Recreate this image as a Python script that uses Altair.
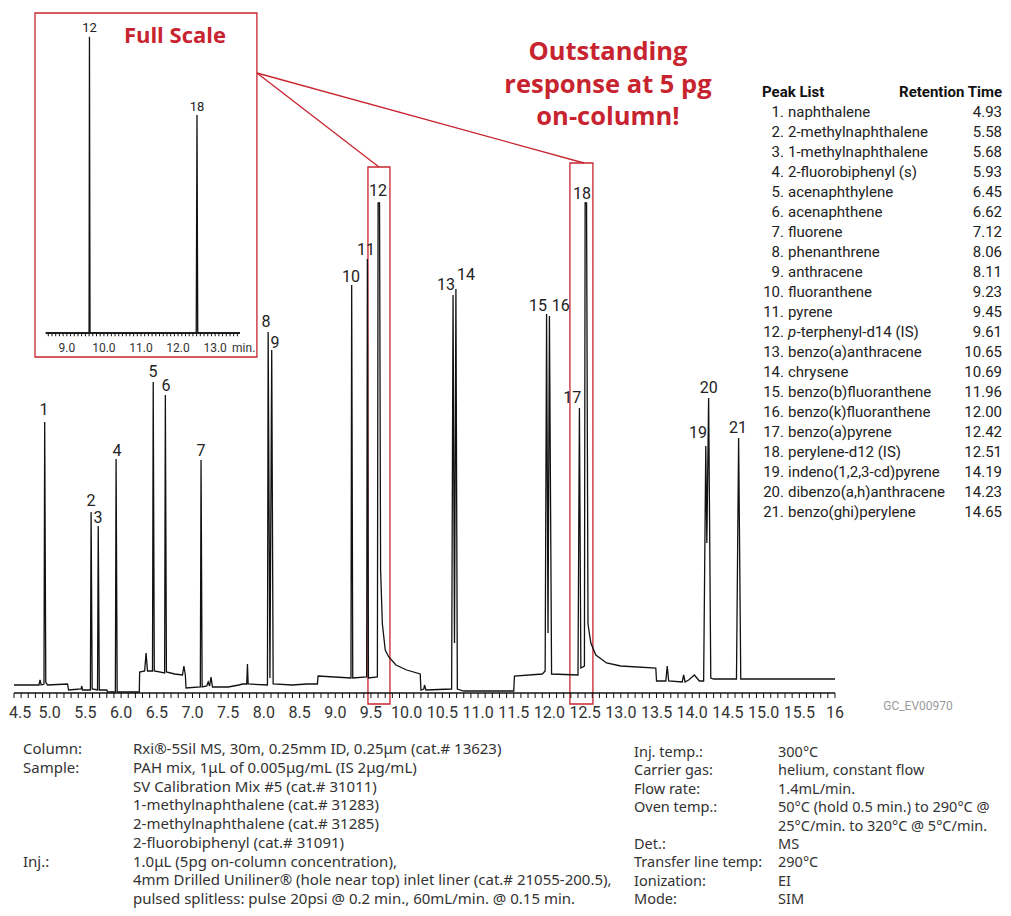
import altair as alt
import pandas as pd

W, H = 995, 900
RED = "#C8242F"
FONT = "Roboto"
TXT = "Noto Sans"

# ---------------- main chromatogram trace (time in min, response) ----------------
trace_t = [4.50, 4.85, 4.865, 4.88, 4.92, 4.93, 4.945, 4.97, 5.25, 5.265, 5.44, 5.45, 5.46,
           5.57, 5.58, 5.595, 5.67, 5.68, 5.695, 5.80, 5.81, 5.92, 5.93, 5.945, 6.255, 6.26,
           6.33, 6.35, 6.37, 6.44, 6.45, 6.465, 6.61, 6.62, 6.635, 6.75, 6.86, 6.88, 6.90,
           6.91, 7.11, 7.12, 7.135, 7.20, 7.22, 7.24, 7.26, 7.28, 7.50, 7.65, 7.70, 7.76,
           7.77, 7.78, 8.05, 8.06, 8.085, 8.11, 8.13, 8.40, 8.60, 8.75, 8.76, 9.22, 9.23,
           9.245, 9.44, 9.45, 9.465, 9.59, 9.60, 9.62, 9.635, 9.66, 9.70, 9.75, 9.85, 10.0,
           10.19, 10.20, 10.24, 10.25, 10.27, 10.63, 10.65, 10.67, 10.69, 10.71, 10.80,
           11.50, 11.51, 11.90, 11.94, 11.96, 11.98, 12.00, 12.03, 12.40, 12.42, 12.44,
           12.49, 12.50, 12.52, 12.54, 12.58, 12.65, 12.80, 13.00, 13.49, 13.50, 13.63,
           13.65, 13.67, 13.86, 13.88, 13.90, 13.95, 14.03, 14.10, 14.16, 14.19, 14.205,
           14.23, 14.26, 14.30, 14.62, 14.65, 14.68, 16.0]
trace_v = [1.6, 1.6, 2.6, 1.6, 1.8, 54.2, 2.2, 1.6, 1.8, 0.6, 0.8, 1.4, 0.6,
           0.6, 36.2, 0.8, 0.6, 33.4, 0.6, 0.6, 0.2, 0.2, 46.8, 0.2, 0.2, 4.2,
           4.4, 8.0, 4.4, 4.4, 62.2, 4.4, 4.0, 59.6, 4.2, 3.8, 3.6, 5.4, 3.6,
           1.0, 1.2, 46.6, 1.2, 1.4, 2.2, 1.4, 3.2, 1.2, 1.2, 1.6, 1.8, 1.8,
           5.8, 1.8, 1.6, 72.2, 3.0, 68.6, 1.8, 1.6, 1.8, 1.8, 3.4, 3.0, 81.6,
           3.0, 3.2, 86.8, 3.0, 3.2, 98.0, 98.0, 24.6, 13.8, 8.6, 7.2, 5.6, 4.6,
           3.8, 0.6, 0.8, 1.6, 0.6, 0.8, 79.6, 10.0, 80.8, 0.8, 0.4,
           0.4, 3.4, 3.8, 4.4, 75.8, 12.0, 75.4, 3.8, 3.6, 57.0, 5.0,
           5.4, 98.0, 98.0, 13.8, 10.0, 7.6, 6.0, 5.4, 5.0, 2.4, 2.4,
           5.4, 2.4, 2.2, 3.6, 2.2, 2.6, 3.6, 2.4, 2.4, 49.4, 30.0,
           59.0, 3.0, 2.8, 2.8, 51.0, 2.8, 2.8]

peak_ids = [str(i) for i in range(1, 22)]
label_t = [4.92, 5.578, 5.676, 5.943, 6.447, 6.629, 7.119, 8.029, 8.155, 9.22, 9.43,
           9.598, 10.55, 10.83, 11.84, 12.16, 12.32, 12.455, 14.08, 14.23, 14.64]
label_v = [56.6, 38.4, 35.0, 48.4, 64.2, 61.4, 48.4, 74.2, 70.0, 83.2, 88.6,
           100.4, 81.6, 83.6, 77.4, 77.4, 59.0, 99.8, 52.0, 61.0, 53.0]

main_minor_ticks = [round(4.5 + 0.1 * i, 1) for i in range(116)]
main_tick_labels = ["4.5", "5.0", "5.5", "6.0", "6.5", "7.0", "7.5", "8.0", "8.5", "9.0",
                    "9.5", "10.0", "10.5", "11.0", "11.5", "12.0", "12.5", "13.0", "13.5",
                    "14.0", "14.5", "15.0", "15.5", "16"]

# highlight boxes around IS peaks (time range, response range)
box_t0 = [9.458, 12.287]
box_t1 = [9.766, 12.609]
box_top = [105.2, 106.0]
box_bot = [-2.2, -2.2]

# connectors from inset to boxes
conn_t0 = [7.903, 7.903]
conn_v0 = [124.0, 124.0]
conn_t1 = [9.612, 12.483]
conn_v1 = [105.2, 106.0]

headline = ["Outstanding", "response at 5 pg", "on-column!"]
headline_t = [12.82, 12.82, 12.82]
headline_v = [128.2, 121.6, 115.2]

# ---------------- inset (full scale) ----------------
inset_t = [8.43, 9.60, 9.61, 9.625, 12.49, 12.51, 12.53, 13.67]
inset_v = [0.0, 0.0, 100.0, 0.0, 0.0, 73.6, 0.0, 0.0]
inset_ids = ["12", "18"]
inset_label_t = [9.61, 12.51]
inset_label_v = [103.0, 76.3]
inset_minor_ticks = [round(8.5 + 0.1 * i, 1) for i in range(52)]
inset_tick_labels = ["9.0", "10.0", "11.0", "12.0", "13.0"]

# ---------------- peak list ----------------
pl_names = ["naphthalene", "2-methylnaphthalene", "1-methylnaphthalene", "2-fluorobiphenyl (s)",
            "acenaphthylene", "acenaphthene", "fluorene", "phenanthrene", "anthracene",
            "fluoranthene", "pyrene", "p-terphenyl-d14 (IS)", "benzo(a)anthracene", "chrysene",
            "benzo(b)fluoranthene", "benzo(k)fluoranthene", "benzo(a)pyrene", "perylene-d12 (IS)",
            "indeno(1,2,3-cd)pyrene", "dibenzo(a,h)anthracene", "benzo(ghi)perylene"]
pl_rt = ["4.93", "5.58", "5.68", "5.93", "6.45", "6.62", "7.12", "8.06", "8.11", "9.23", "9.45",
         "9.61", "10.65", "10.69", "11.96", "12.00", "12.42", "12.51", "14.19", "14.23", "14.65"]

# ---------------- method conditions ----------------
left_labels = ["Column:", "Sample:", "", "", "", "", "Inj.:", "", ""]
left_values = ["Rxi®-5Sil MS, 30m, 0.25mm ID, 0.25μm (cat.# 13623)",
               "PAH mix, 1μL of 0.005μg/mL (IS 2μg/mL)",
               "SV Calibration Mix #5 (cat.# 31011)",
               "1-methylnaphthalene (cat.# 31283)",
               "2-methylnaphthalene (cat.# 31285)",
               "2-fluorobiphenyl (cat.# 31091)",
               "1.0μL (5pg on-column concentration),",
               "4mm Drilled Uniliner® (hole near top) inlet liner (cat.# 21055-200.5),",
               "pulsed splitless: pulse 20psi @ 0.2 min., 60mL/min. @ 0.15 min."]
right_labels = ["Inj. temp.:", "Carrier gas:", "Flow rate:", "Oven temp.:", "", "Det.:",
                "Transfer line temp:", "Ionization:", "Mode:"]
right_values = ["300°C", "helium, constant flow", "1.4mL/min.", "50°C (hold 0.5 min.) to 290°C @",
                "25°C/min. to 320°C @ 5°C/min.", "MS", "290°C", "EI", "SIM"]

# =============================================================================
x_main = alt.Scale(domain=[4.5, 16], range=[6, 827], nice=False, zero=False)
y_main = alt.Scale(domain=[0, 100], range=[685, 185], nice=False, zero=False)


def mx(f):
    return alt.X(f, scale=x_main, axis=None)


def my(f):
    return alt.Y(f, scale=y_main, axis=None)


# axis (domain line, ticks, labels) drawn through the main scales
axis_line = alt.Chart(pd.DataFrame({"a": [main_minor_ticks[0]], "b": [main_minor_ticks[-1]], "v": [0.0]})
                      ).mark_rule(color="#111", strokeWidth=1.3).encode(
    x=mx("a:Q"), x2="b:Q", y=my("v:Q"))
tick_df = pd.DataFrame({"t": main_minor_ticks})
axis_ticks = alt.Chart(tick_df).transform_calculate(v0="0", v1="-1").mark_rule(
    color="#111", strokeWidth=1).encode(x=mx("t:Q"), y=my("v0:Q"), y2="v1:Q")
tl_df = pd.DataFrame({"lab": main_tick_labels})
axis_labels = alt.Chart(tl_df).transform_filter("datum.lab != '4.5'").transform_calculate(
    t="toNumber(datum.lab)", v="-3.9").mark_text(
    font=FONT, fontSize=16, color="#333", baseline="middle", align="center").encode(
    x=mx("t:Q"), y=my("v:Q"), text="lab:N")
axis_label_first = alt.Chart(tl_df).transform_filter("datum.lab == '4.5'").transform_calculate(
    t="toNumber(datum.lab)", v="-3.9").mark_text(
    font=FONT, fontSize=16, color="#333", baseline="middle", align="left", dx=-5).encode(
    x=mx("t:Q"), y=my("v:Q"), text="lab:N")

trace_df = pd.DataFrame({"t": trace_t, "v": trace_v})
trace = alt.Chart(trace_df).mark_line(color="#111", strokeWidth=1.3).encode(
    x=mx("t:Q"), y=my("v:Q"), order="t:Q")

labels_df = pd.DataFrame({"id": peak_ids, "t": label_t, "v": label_v})
peak_labels = alt.Chart(labels_df).mark_text(font=FONT, fontSize=16, color="#222",
                                             baseline="middle", align="center").encode(
    x=mx("t:Q"), y=my("v:Q"), text="id:N")

box_df = pd.DataFrame({"t0": box_t0, "t1": box_t1, "top": box_top, "bot": box_bot})
boxes = alt.Chart(box_df).mark_rect(fillOpacity=0, stroke=RED, strokeWidth=1.3).encode(
    x=mx("t0:Q"), x2="t1:Q", y=my("top:Q"), y2="bot:Q")

conn_df = pd.DataFrame({"t0": conn_t0, "v0": conn_v0, "t1": conn_t1, "v1": conn_v1})
connectors = alt.Chart(conn_df).mark_rule(color=RED, strokeWidth=1.3).encode(
    x=mx("t0:Q"), x2="t1:Q", y=my("v0:Q"), y2="v1:Q")

head_df = pd.DataFrame({"txt": headline, "t": headline_t, "v": headline_v})
head = alt.Chart(head_df).mark_text(font="Open Sans", fontWeight="bold", fontSize=25.5,
                                    color=RED, baseline="middle", align="center").encode(
    x=mx("t:Q"), y=my("v:Q"), text="txt:N")

main_group = alt.layer(boxes, connectors, axis_line, axis_ticks, axis_labels, axis_label_first,
                       trace, peak_labels, head)

# ---------------- inset ----------------
x_in = alt.Scale(domain=[8.43, 13.67], range=[37.7, 232], nice=False, zero=False)
y_in = alt.Scale(domain=[0, 100], range=[325, 28.7], nice=False, zero=False)


def ix(f):
    return alt.X(f, scale=x_in, axis=None)


def iy(f):
    return alt.Y(f, scale=y_in, axis=None)


in_line = alt.Chart(pd.DataFrame({"a": [inset_t[0]], "b": [inset_t[-1]], "v": [0.0]})
                    ).mark_rule(color="#111", strokeWidth=1.3).encode(
    x=ix("a:Q"), x2="b:Q", y=iy("v:Q"))
in_ticks = alt.Chart(pd.DataFrame({"t": inset_minor_ticks})).transform_calculate(
    v0="0", v1="-1.1").mark_rule(color="#111", strokeWidth=1).encode(
    x=ix("t:Q"), y=iy("v0:Q"), y2="v1:Q")
in_tlabels = alt.Chart(pd.DataFrame({"lab": inset_tick_labels})).transform_calculate(
    t="toNumber(datum.lab)", v="-5.1").mark_text(
    font=FONT, fontSize=12, color="#333", baseline="middle", align="center").encode(
    x=ix("t:Q"), y=iy("v:Q"), text="lab:N")

inset_df = pd.DataFrame({"t": inset_t, "v": inset_v})
inset_trace = alt.Chart(inset_df).mark_line(color="#111", strokeWidth=1.3).encode(
    x=ix("t:Q"), y=iy("v:Q"), order="t:Q")
inset_lab_df = pd.DataFrame({"id": inset_ids, "t": inset_label_t, "v": inset_label_v})
inset_labels = alt.Chart(inset_lab_df).mark_text(font=FONT, fontSize=13, color="#222",
                                                 baseline="middle", align="center").encode(
    x=ix("t:Q"), y=iy("v:Q"), text="id:N")
inset_box_df = pd.DataFrame({"t0": [8.142], "t1": [14.126], "top": [108.0], "bot": [-8.1]})
inset_box = alt.Chart(inset_box_df).mark_rect(fillOpacity=0, stroke=RED, strokeWidth=1.3).encode(
    x=ix("t0:Q"), x2="t1:Q", y=iy("top:Q"), y2="bot:Q")
inset_title = alt.Chart(pd.DataFrame({"txt": ["Full Scale"], "t": [11.915], "v": [100.2]})).mark_text(
    font="Open Sans", fontWeight="bold", fontSize=22, color=RED, baseline="middle",
    align="center").encode(x=ix("t:Q"), y=iy("v:Q"), text="txt:N")
inset_min = alt.Chart(pd.DataFrame({"txt": ["min."], "t": [13.77], "v": [-5.1]})).mark_text(
    font=FONT, fontSize=12, color="#333", baseline="middle", align="center").encode(
    x=ix("t:Q"), y=iy("v:Q"), text="txt:N")
inset_group = alt.layer(inset_box, in_line, in_ticks, in_tlabels, inset_trace, inset_labels,
                        inset_title, inset_min)

# ---------------- peak list ----------------
PLS = 15
pl_df = pd.DataFrame({"idx": list(range(1, 22)),
                      "num": [f"{i}." for i in range(1, 22)],
                      "name": pl_names, "rt": pl_rt})
y_pl = alt.Scale(domain=[0, 21], range=[84, 504], nice=False, zero=False)
pl_base = alt.Chart(pl_df)
pl_num = pl_base.mark_text(font=FONT, fontSize=PLS, color="#222", align="right",
                           baseline="middle").encode(
    x=alt.value(776), y=alt.Y("idx:Q", scale=y_pl, axis=None), text="num:N")
pl_name = pl_base.transform_filter("datum.idx != 12").mark_text(
    font=FONT, fontSize=PLS, color="#222", align="left", baseline="middle").encode(
    x=alt.value(780), y=alt.Y("idx:Q", scale=y_pl, axis=None), text="name:N")
pl_name12a = pl_base.transform_filter("datum.idx == 12").mark_text(
    font=FONT, fontSize=PLS, fontStyle="italic", color="#222", align="left", baseline="middle").encode(
    x=alt.value(780), y=alt.Y("idx:Q", scale=y_pl, axis=None), text=alt.value("p"))
pl_name12b = pl_base.transform_filter("datum.idx == 12").transform_calculate(
    rest="substring(datum.name, 1)").mark_text(
    font=FONT, fontSize=PLS, color="#222", align="left", baseline="middle").encode(
    x=alt.value(788.5), y=alt.Y("idx:Q", scale=y_pl, axis=None), text="rest:N")
pl_rt_t = pl_base.mark_text(font=FONT, fontSize=PLS, color="#222", align="right",
                            baseline="middle").encode(
    x=alt.value(994), y=alt.Y("idx:Q", scale=y_pl, axis=None), text="rt:N")
pl_head_df = pd.DataFrame({"idx": [0, 0], "txt": ["Peak List", "Retention Time"], "al": ["l", "r"]})
pl_head_l = alt.Chart(pl_head_df).transform_filter("datum.al == 'l'").mark_text(
    font=FONT, fontSize=PLS, fontWeight="bold", color="#111", align="left", baseline="middle").encode(
    x=alt.value(754), y=alt.Y("idx:Q", scale=y_pl, axis=None), text="txt:N")
pl_head_r = alt.Chart(pl_head_df).transform_filter("datum.al == 'r'").mark_text(
    font=FONT, fontSize=PLS, fontWeight="bold", color="#111", align="right", baseline="middle").encode(
    x=alt.value(994), y=alt.Y("idx:Q", scale=y_pl, axis=None), text="txt:N")
pl_group = alt.layer(pl_head_l, pl_head_r, pl_num, pl_name, pl_name12a, pl_name12b, pl_rt_t)

# ---------------- conditions ----------------
left_df = pd.DataFrame({"idx": list(range(9)), "lab": left_labels, "val": left_values})
y_left = alt.Scale(domain=[0, 8], range=[741, 891], nice=False, zero=False)
left_lab = alt.Chart(left_df).mark_text(font=TXT, fontSize=15, color="#333", align="left",
                                        baseline="middle").encode(
    x=alt.value(15), y=alt.Y("idx:Q", scale=y_left, axis=None), text="lab:N")
left_val = alt.Chart(left_df).mark_text(font=TXT, fontSize=15, color="#333", align="left",
                                        baseline="middle").encode(
    x=alt.value(125), y=alt.Y("idx:Q", scale=y_left, axis=None), text="val:N")
left_group = alt.layer(left_lab, left_val)

right_df = pd.DataFrame({"idx": list(range(9)), "lab": right_labels, "val": right_values})
y_right = alt.Scale(domain=[0, 8], range=[745, 892], nice=False, zero=False)
right_lab = alt.Chart(right_df).mark_text(font=TXT, fontSize=14.5, color="#333", align="left",
                                          baseline="middle").encode(
    x=alt.value(626), y=alt.Y("idx:Q", scale=y_right, axis=None), text="lab:N")
right_val = alt.Chart(right_df).mark_text(font=TXT, fontSize=14.5, color="#333", align="left",
                                          baseline="middle").encode(
    x=alt.value(770), y=alt.Y("idx:Q", scale=y_right, axis=None), text="val:N")
right_group = alt.layer(right_lab, right_val)

code = alt.Chart(pd.DataFrame({"txt": ["GC_EV00970"]})).mark_text(
    font=FONT, fontSize=12, color="#9a9a9a", align="center", baseline="middle").encode(
    x=alt.value(910), y=alt.value(698), text="txt:N")

chart = alt.layer(main_group, inset_group, pl_group, left_group, right_group, code).resolve_scale(
    x="independent", y="independent"
).properties(
    width=W, height=H, padding=0, autosize=alt.AutoSizeParams(type="none"), background="white"
).configure_view(stroke=None)

chart.save("out.html", embed_options={"renderer": "svg", "actions": False})
